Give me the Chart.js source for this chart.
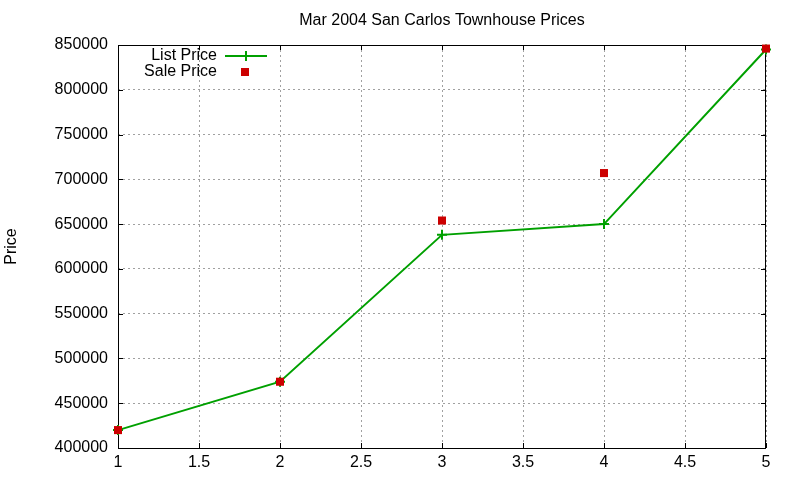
<!DOCTYPE html>
<html lang="en">
<head>
    <meta charset="UTF-8">
    <title>Mar 2004 San Carlos Townhouse Prices</title>
    <script src="https://cdn.jsdelivr.net/npm/chart.js"></script>
    <style>
        html, body { margin: 0; padding: 0; background: white; }
        #wrap { width: 800px; height: 480px; }
    </style>
</head>
<body>
<div id="wrap"><canvas id="priceChart" width="800" height="480"></canvas></div>
<script>
    // values
    let houseIndex = [1, 2, 3, 4, 5];
    let listPrice = [420000, 474000, 638000, 650000, 845000];
    let salePrice = [420000, 474000, 654000, 707000, 846000];
    let xTicks = [1, 1.5, 2, 2.5, 3, 3.5, 4, 4.5, 5];
    let yTicks = [400000, 450000, 500000, 550000, 600000, 650000, 700000, 750000, 800000, 850000];

    const FONT = "'Liberation Sans', Arial, sans-serif";
    const GREEN = "#00a000";
    const RED = "#cc0000";

    // gnuplot-style frame, inward ticks, title and key
    const gnuplotLook = {
        id: "gnuplotLook",
        beforeDatasetsDraw(chart) {
            let ctx = chart.ctx;
            let a = chart.chartArea;
            let xs = chart.scales.x, ys = chart.scales.y;
            ctx.save();
            ctx.strokeStyle = "#000";
            ctx.lineWidth = 1;
            ctx.strokeRect(a.left + 0.5, a.top + 0.5, a.right - a.left - 1, a.bottom - a.top);
            ctx.beginPath();
            xTicks.forEach(v => {
                let px = Math.round(xs.getPixelForValue(v)) + 0.5;
                ctx.moveTo(px, a.bottom); ctx.lineTo(px, a.bottom - 5);
                ctx.moveTo(px, a.top); ctx.lineTo(px, a.top + 5);
            });
            yTicks.forEach(v => {
                let py = Math.round(ys.getPixelForValue(v)) + 0.5;
                ctx.moveTo(a.left, py); ctx.lineTo(a.left + 5, py);
                ctx.moveTo(a.right, py); ctx.lineTo(a.right - 5, py);
            });
            ctx.stroke();
            ctx.restore();
        },
        afterDraw(chart) {
            let ctx = chart.ctx;
            let a = chart.chartArea;
            ctx.save();
            ctx.fillStyle = "#000";
            ctx.font = "16px " + FONT;
            ctx.textAlign = "center";
            ctx.textBaseline = "middle";
            ctx.fillText("Mar 2004 San Carlos Townhouse Prices", (a.left + a.right) / 2, 21);

            // key, top left inside the frame
            ctx.textAlign = "right";
            ctx.fillText(chart.data.datasets[0].label, 217, 56);
            ctx.fillText(chart.data.datasets[1].label, 217, 72);
            ctx.strokeStyle = GREEN;
            ctx.lineWidth = 2;
            ctx.beginPath();
            ctx.moveTo(225, 56); ctx.lineTo(267, 56);
            ctx.moveTo(246, 51); ctx.lineTo(246, 61);
            ctx.stroke();
            ctx.fillStyle = RED;
            ctx.fillRect(241, 68, 8, 8);
            ctx.restore();
        }
    };

    let ctx = document.getElementById("priceChart").getContext("2d");
    let priceChart = new Chart(ctx, {
        type: "scatter",
        data: {
            datasets: [{
                label: "List Price",
                data: houseIndex.map((x, i) => ({ x: x, y: listPrice[i] })),
                showLine: true,
                borderColor: GREEN,
                backgroundColor: GREEN,
                borderWidth: 2,
                pointStyle: "cross",
                pointRadius: 5,
                pointBorderWidth: 2,
                clip: false,
                order: 2
            }, {
                label: "Sale Price",
                data: houseIndex.map((x, i) => ({ x: x, y: salePrice[i] })),
                showLine: false,
                borderColor: RED,
                backgroundColor: RED,
                pointStyle: "rect",
                pointRadius: 5.7,
                pointBorderWidth: 0,
                clip: false,
                order: 1
            }]
        },
        options: {
            responsive: false,
            animation: false,
            layout: { padding: { top: 45, right: 34, bottom: 0, left: 0 } },
            plugins: {
                legend: { display: false },
                title: { display: false },
                tooltip: { enabled: false }
            },
            scales: {
                x: {
                    type: "linear",
                    min: 1,
                    max: 5,
                    afterFit(scale) { scale.height = 32; },
                    afterBuildTicks(scale) { scale.ticks = xTicks.map(v => ({ value: v })); },
                    ticks: {
                        color: "#000",
                        padding: 5,
                        font: { family: FONT, size: 16 },
                        callback: v => String(v)
                    },
                    grid: { color: "#a0a0a0", lineWidth: 1, drawTicks: false },
                    border: { display: false, dash: [2, 3] }
                },
                y: {
                    type: "linear",
                    min: 400000,
                    max: 850000,
                    afterFit(scale) { scale.width = 118; },
                    afterBuildTicks(scale) { scale.ticks = yTicks.map(v => ({ value: v })); },
                    ticks: {
                        color: "#000",
                        padding: 10,
                        font: { family: FONT, size: 16 },
                        callback: v => String(v)
                    },
                    grid: { color: "#a0a0a0", lineWidth: 1, drawTicks: false },
                    border: { display: false, dash: [2, 3] },
                    title: {
                        display: true,
                        text: "Price",
                        color: "#000",
                        font: { family: FONT, size: 16 },
                        padding: { top: 2, bottom: 0 }
                    }
                }
            }
        },
        plugins: [gnuplotLook]
    });
</script>
</body>
</html>
